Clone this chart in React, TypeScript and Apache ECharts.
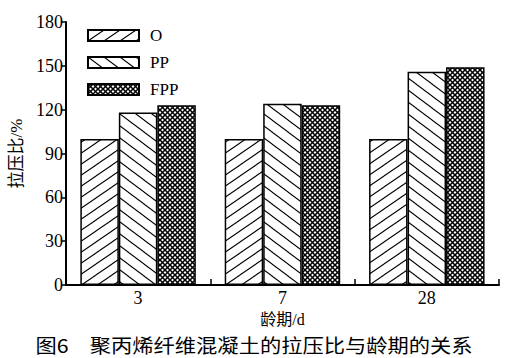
import React, { useEffect, useRef } from "react";
import * as echarts from "echarts";

const categories = ["3", "7", "28"];
const seriesNames = ["O", "PP", "FPP"];
const valuesO = [100, 100, 100];
const valuesPP = [118, 124, 146];
const valuesFPP = [123, 123, 149];
const yTicks = { min: 0, max: 180, interval: 30 };
const yName = "拉压比/%";
const xName = "龄期/d";
const caption = "图6　聚丙烯纤维混凝土的拉压比与龄期的关系";

const SERIF = "'Liberation Serif', 'Noto Sans CJK SC', serif";

function makePattern(kind: string) {
  const c = document.createElement("canvas");
  let w = 16, h = 11;
  if (kind === "pp") { w = 16; h = 12; }
  if (kind === "fpp") { w = 5; h = 5; }
  c.width = w; c.height = h;
  const ctx = c.getContext("2d")!;
  ctx.fillStyle = "#fff";
  ctx.fillRect(0, 0, w, h);
  ctx.strokeStyle = "#000";
  const drawLine = (x1: number, y1: number, x2: number, y2: number) => {
    for (let dx = -1; dx <= 1; dx++) {
      for (let dy = -1; dy <= 1; dy++) {
        ctx.beginPath();
        ctx.moveTo(x1 + dx * w, y1 + dy * h);
        ctx.lineTo(x2 + dx * w, y2 + dy * h);
        ctx.stroke();
      }
    }
  };
  if (kind === "o") {
    ctx.lineWidth = 1.1;
    drawLine(0, h, w, 0);
  } else if (kind === "pp") {
    ctx.lineWidth = 1.1;
    drawLine(0, 0, w, h);
  } else {
    ctx.lineWidth = 1.5;
    drawLine(0, h, w, 0);
    drawLine(0, 0, w, h);
  }
  return { image: c, repeat: "repeat", imageWidth: w, imageHeight: h } as any;
}

export default function App() {
  const ref = useRef<HTMLDivElement>(null);
  useEffect(() => {
    if (!ref.current) return;
    const chart = echarts.init(ref.current, null, { renderer: "svg" });
    const patterns = [makePattern("o"), makePattern("pp"), makePattern("fpp")];
    const data = [valuesO, valuesPP, valuesFPP];
    chart.setOption({
      animation: false,
      backgroundColor: "#fff",
      grid: { left: 63, right: 6, top: 22, bottom: 73, containLabel: false },
      legend: {
        orient: "vertical",
        left: 87,
        top: 27,
        padding: 0,
        itemWidth: 51,
        itemHeight: 11,
        itemGap: 10,
        icon: "rect",
        data: seriesNames,
        textStyle: { fontFamily: SERIF, fontSize: 17, color: "#000", padding: [0, 0, 0, 6] },
      },
      xAxis: {
        type: "category",
        data: categories,
        boundaryGap: true,
        name: xName,
        nameLocation: "middle",
        nameGap: 22,
        nameTextStyle: { fontFamily: SERIF, fontSize: 16, color: "#000" },
        axisLine: { show: true, lineStyle: { color: "#000", width: 2 } },
        axisTick: { show: true, inside: true, length: 6, alignWithLabel: false, lineStyle: { color: "#000", width: 1.5 } },
        axisLabel: { fontFamily: SERIF, fontSize: 18, color: "#000", margin: 4 },
      },
      yAxis: {
        type: "value",
        min: yTicks.min,
        max: yTicks.max,
        interval: yTicks.interval,
        name: yName,
        nameLocation: "middle",
        nameGap: 39,
        nameTextStyle: { fontFamily: SERIF, fontSize: 17, color: "#000" },
        splitLine: { show: false },
        axisLine: { show: true, lineStyle: { color: "#000", width: 2 } },
        axisTick: { show: true, inside: false, length: 5, lineStyle: { color: "#000", width: 1.5 } },
        axisLabel: { fontFamily: SERIF, fontSize: 18, color: "#000", margin: 3 },
      },
      series: seriesNames.map((name, i) => ({
        name,
        type: "bar",
        data: data[i],
        barGap: "0%",
        barCategoryGap: "20%",
        itemStyle: { color: patterns[i], borderColor: "#000", borderWidth: 1.5 },
      })),
      graphic: [
        {
          type: "text",
          x: 254,
          y: 345,
          scaleX: 1.12,
          style: {
            text: caption,
            fontFamily: "'Noto Sans CJK SC', sans-serif",
            fontSize: 19,
            fill: "#000",
            textAlign: "center",
            textVerticalAlign: "middle",
          },
        },
      ],
    });
    return () => chart.dispose();
  }, []);
  return <div ref={ref} style={{ width: 505, height: 358, position: "absolute", left: 0, top: 0 }} />;
}
